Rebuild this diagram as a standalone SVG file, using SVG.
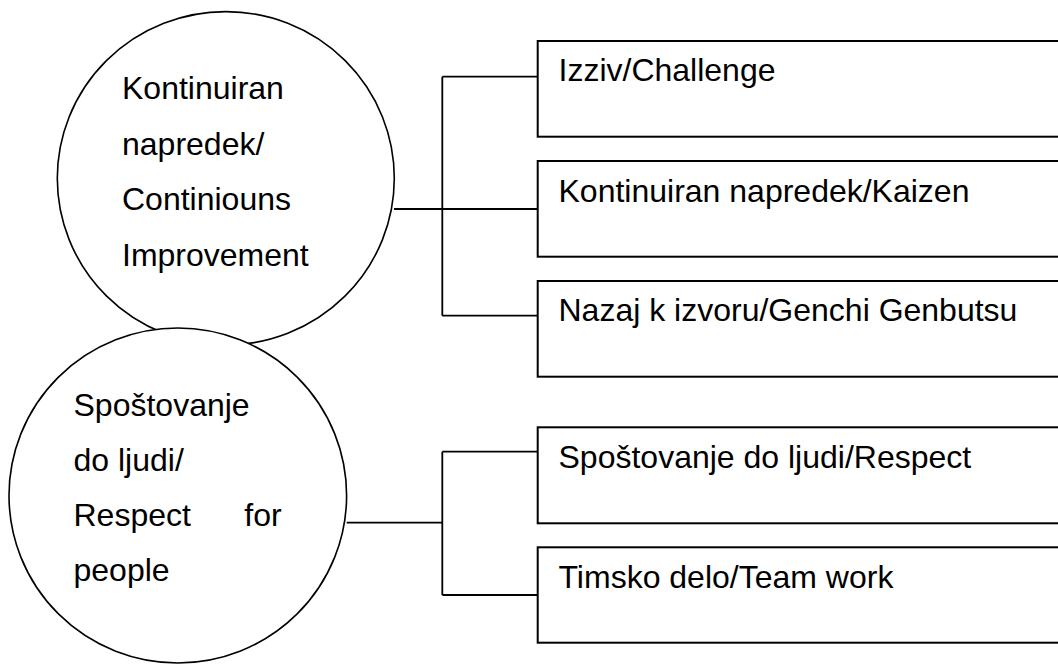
<svg xmlns="http://www.w3.org/2000/svg" width="1058" height="664" viewBox="0 0 1058 664">
<style>
.c{fill:#fff;stroke:#000;stroke-width:1.6}
.b{fill:#fff;stroke:#000;stroke-width:2}
.l{fill:none;stroke:#000;stroke-width:1.8}
text{font-family:"Liberation Sans",Arial,sans-serif;font-size:32px;fill:#000}
</style>
<rect width="1058" height="664" fill="#fff"/>
<g id="connectors">
<path class="l" d="M394 209H537.7M442.3 76.7V315.7M442.3 76.7H537.7M442.3 315.7H537.7"/>
<path class="l" d="M346.7 522.7H442.3M442.3 451.7V595M442.3 451.7H537.7M442.3 595H537.7"/>
</g>
<g id="circle1">
<ellipse class="c" cx="225.8" cy="178.3" rx="168.5" ry="166.7"/>
<text x="122" y="99.3">Kontinuiran</text>
<text x="122" y="155">napredek/</text>
<text x="122" y="210.3">Continiouns</text>
<text x="122" y="265.5">Improvement</text>
</g>
<g id="circle2">
<ellipse class="c" cx="177.8" cy="495.5" rx="168.8" ry="167.5"/>
<text x="73.5" y="415.7">Spoštovanje</text>
<text x="73.5" y="470.5">do ljudi/</text>
<text x="73.5" y="525.5">Respect</text>
<text x="281.7" y="525.5" text-anchor="end">for</text>
<text x="73.5" y="580.5">people</text>
</g>
<g id="box1">
<rect class="b" x="537.7" y="41" width="540" height="95.7"/>
<text x="558.5" y="81">Izziv/Challenge</text>
</g>
<g id="box2">
<rect class="b" x="537.7" y="161" width="540" height="95.7"/>
<text x="558.5" y="201.5">Kontinuiran napredek/Kaizen</text>
</g>
<g id="box3">
<rect class="b" x="537.7" y="281" width="540" height="95.7"/>
<text x="558.5" y="321">Nazaj k izvoru/Genchi Genbutsu</text>
</g>
<g id="box4">
<rect class="b" x="537.7" y="427.3" width="540" height="96"/>
<text x="558.5" y="468">Spoštovanje do ljudi/Respect</text>
</g>
<g id="box5">
<rect class="b" x="537.7" y="547.3" width="540" height="95.4"/>
<text x="558.5" y="588.3">Timsko delo/Team work</text>
</g>
</svg>
